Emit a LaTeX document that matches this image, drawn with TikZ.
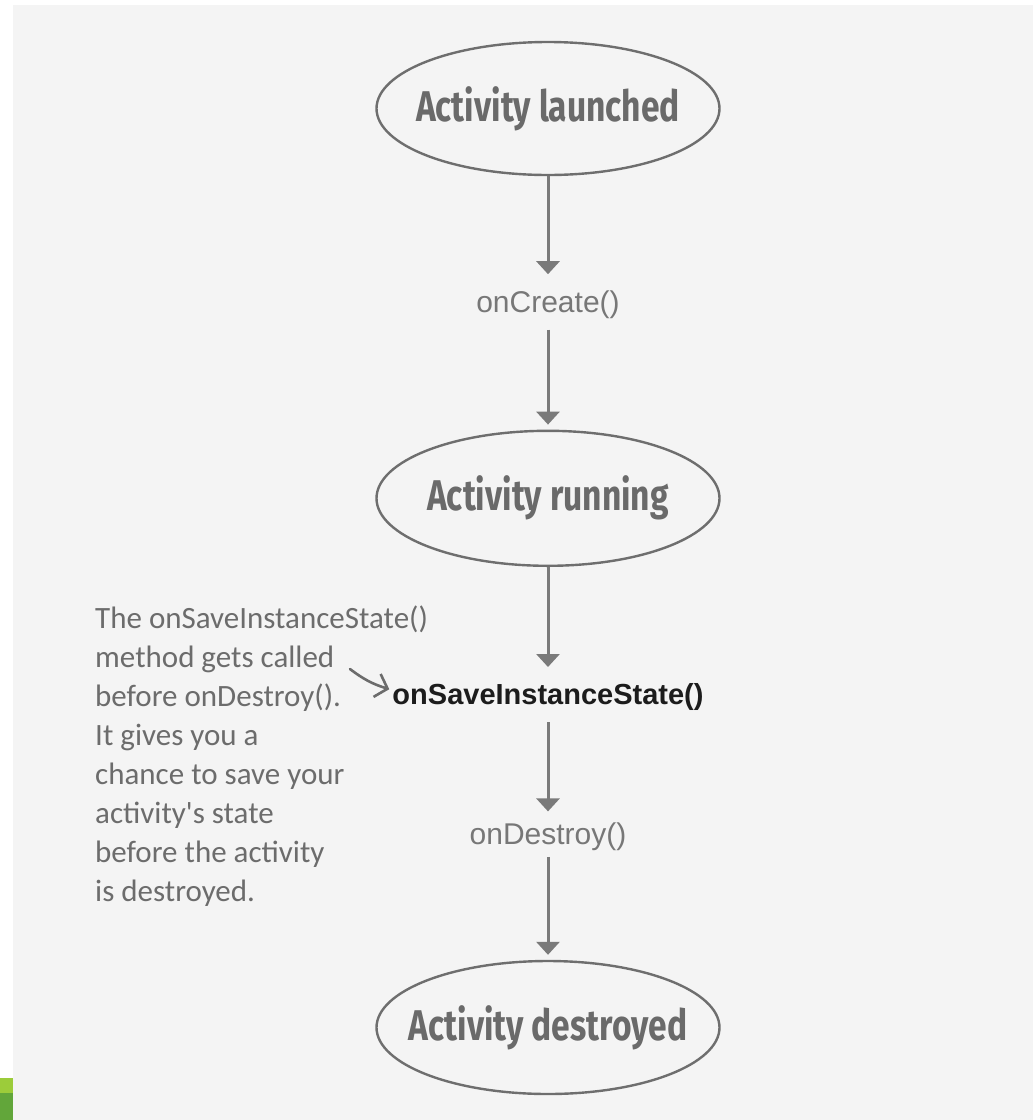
\documentclass[tikz,border=0pt]{standalone}
\usepackage{fontspec}
\setmainfont{Liberation Sans}
\newfontfamily\statefont[FakeStretch=0.78]{Fira Sans Bold}
\newfontfamily\notefont{Carlito}
\usetikzlibrary{shapes.geometric, arrows.meta, positioning}

\definecolor{pagebg}{HTML}{F4F4F4}
\definecolor{lineclr}{HTML}{6E6E6E}
\definecolor{arrclr}{HTML}{7A7A7A}
\definecolor{labelclr}{HTML}{6A6A6A}
\definecolor{callclr}{HTML}{777777}
\definecolor{inkclr}{HTML}{1C1C1C}
\definecolor{noteclr}{HTML}{6C6C6C}
\definecolor{lightgreen}{HTML}{9CCC3A}
\definecolor{darkgreen}{HTML}{62A63A}

\begin{document}
\begin{tikzpicture}[
  x=1pt, y=-1pt,
  node distance = 100pt,
  state/.style   = {ellipse, draw=lineclr, line width=2.4pt, minimum width=343pt,
                    minimum height=133pt, inner xsep=-30pt, inner ysep=0pt,
                    text=labelclr, font=\statefont\fontsize{43}{48}\selectfont},
  call/.style    = {inner sep=0pt, minimum height=50pt, text=callclr,
                    font=\fontsize{30}{36}\selectfont},
  keycall/.style = {call, text=inkclr, font=\bfseries\fontsize{29}{34}\selectfont},
  note/.style    = {align=left, inner sep=0pt, text=noteclr,
                    font=\notefont\fontsize{31}{39}\selectfont},
  arr/.style     = {-{Triangle[width=23pt,length=13pt]}, line width=3pt, draw=arrclr,
                    shorten >=5pt},
  notearr/.style = {-{Straight Barb[width=24pt,length=11pt]}, line width=2.6pt,
                    draw=noteclr, line cap=round},
]

%% ── Page ──────────────────────────────────────────────────────────
\fill[white] (0,0) rectangle (1033,1120);
\fill[pagebg] (13,5) rectangle (1033,1120);
\fill[lightgreen] (0,1078) rectangle (13,1093);
\fill[darkgreen] (0,1093) rectangle (13,1120);
\useasboundingbox (0,0) rectangle (1033,1120);

%% ── Lifecycle chain ───────────────────────────────────────────────
\node[state] (launched) at (548,108.5) {Activity launched};
\node[call, below=103pt of launched] (create) {onCreate()};
\node[state, minimum height=135pt, below=100pt of create] (running) {Activity running};
\node[keycall, below=105pt of running] (save) {onSaveInstanceState()};
\node[call, minimum height=40pt, below=94pt of save] (destroy) {onDestroy()};
\node[state, below=103pt of destroy] (destroyed) {Activity destroyed};

%% ── Side note ─────────────────────────────────────────────────────
\node[note, anchor=north west] (note) at (95,606)
    {The onSaveInstanceState()\\
     method gets called\\
     before onDestroy().\\
     It gives you a\\
     chance to save your\\
     activity's state\\
     before the activity\\
     is destroyed.};
\coordinate (notetail) at (350,669);

%% ── Arrows ────────────────────────────────────────────────────────
\draw[arr] (launched) -- (create);
\draw[arr] (create)   -- (running);
\draw[arr] (running)  -- (save);
\draw[arr] (save)     -- (destroy);
\draw[arr] (destroy)  -- (destroyed);

\draw[notearr] (notetail) to[bend right=10] ([xshift=-3pt,yshift=8pt]save.west);

\end{tikzpicture}
\end{document}
